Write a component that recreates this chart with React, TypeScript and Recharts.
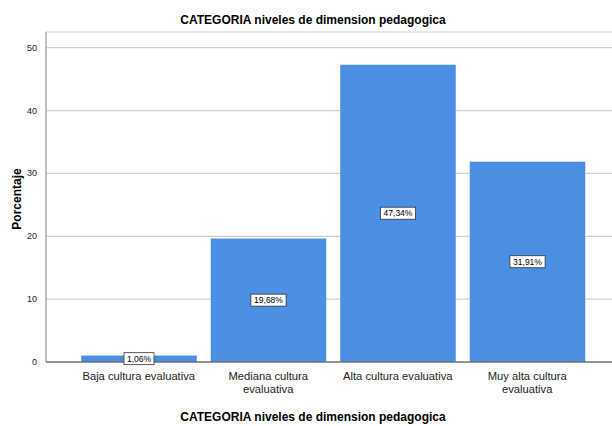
import React from "react";
import { BarChart, Bar, XAxis, YAxis, CartesianGrid, LabelList, Customized } from "recharts";

const categories = [
  "Baja cultura evaluativa",
  "Mediana cultura evaluativa",
  "Alta cultura evaluativa",
  "Muy alta cultura evaluativa",
];
const tickLines: string[][] = [
  ["Baja cultura evaluativa"],
  ["Mediana cultura", "evaluativa"],
  ["Alta cultura evaluativa"],
  ["Muy alta cultura", "evaluativa"],
];
const percentages = [1.06, 19.68, 47.34, 31.91];
const percentLabels = ["1,06%", "19,68%", "47,34%", "31,91%"];
const yTicks = [0, 10, 20, 30, 40, 50];

const title = "CATEGORIA niveles de dimension pedagogica";
const xTitle = "CATEGORIA niveles de dimension pedagogica";
const yTitle = "Porcentaje";

const data = categories.map((c, i) => ({ name: c, value: percentages[i], label: percentLabels[i], idx: i }));

const FONT = "Arial, 'Liberation Sans', sans-serif";

const XTick = (props: any) => {
  const { x, y, index } = props;
  const lines = tickLines[index] || [];
  return (
    <g>
      {lines.map((l, i) => (
        <text key={i} x={x} y={y + 10 + i * 13} textAnchor="middle" fontFamily={FONT} fontSize={11.2} fill="#222">
          {l}
        </text>
      ))}
    </g>
  );
};

const YTick = (props: any) => {
  const { x, y, payload } = props;
  return (
    <text x={x} y={y + 3} textAnchor="end" fontFamily={FONT} fontSize={9} fill="#222">
      {payload.value}
    </text>
  );
};

const BarLabel = (props: any) => {
  const { x, y, width, height, value } = props;
  const cx = x + width / 2;
  const cy = y + height / 2;
  const w = value.length * 5.2 + 4;
  return (
    <g>
      <rect x={cx - w / 2} y={cy - 6} width={w} height={12} fill="#fff" stroke="#333" strokeWidth={0.8} />
      <text x={cx} y={cy + 3} textAnchor="middle" fontFamily={FONT} fontSize={8.5} fill="#000">
        {value}
      </text>
    </g>
  );
};

const Titles = () => (
  <g>
    <text x={313} y={24} textAnchor="middle" fontFamily={FONT} fontSize={12} fontWeight="bold" fill="#000">
      {title}
    </text>
    <text x={313} y={421} textAnchor="middle" fontFamily={FONT} fontSize={12} fontWeight="bold" fill="#000">
      {xTitle}
    </text>
    <text x={21} y={199} textAnchor="middle" fontFamily={FONT} fontSize={12} fontWeight="bold" fill="#000" transform="rotate(-90 21 199)">
      {yTitle}
    </text>
  </g>
);

export default function App() {
  return (
    <div style={{ position: "absolute", left: 0, top: 0, width: 612, height: 426, background: "#fff" }}>
      <BarChart width={612} height={426} data={data} margin={{ top: 32, right: 0, bottom: 30, left: 0 }} barSize={116}>
        <CartesianGrid horizontal vertical={false} stroke="#d0d0d0" strokeWidth={1.2} />
        <XAxis
          dataKey="name"
          height={34}
          axisLine={{ stroke: "#444" }}
          tickLine={false}
          tick={<XTick />}
          interval={0}
          padding={{ left: 28, right: 20 }}
        />
        <YAxis
          width={46}
          domain={[0, 52.5]}
          ticks={yTicks}
          axisLine={{ stroke: "#aaa", strokeWidth: 1.5 }}
          tickLine={false}
          tick={<YTick />}
          tickMargin={3}
        />
        <Bar dataKey="value" fill="#4a8fe3" stroke="#fff" strokeWidth={0.5} isAnimationActive={false}>
          <LabelList dataKey="label" content={<BarLabel />} />
        </Bar>
        <Customized component={Titles} />
      </BarChart>
    </div>
  );
}
